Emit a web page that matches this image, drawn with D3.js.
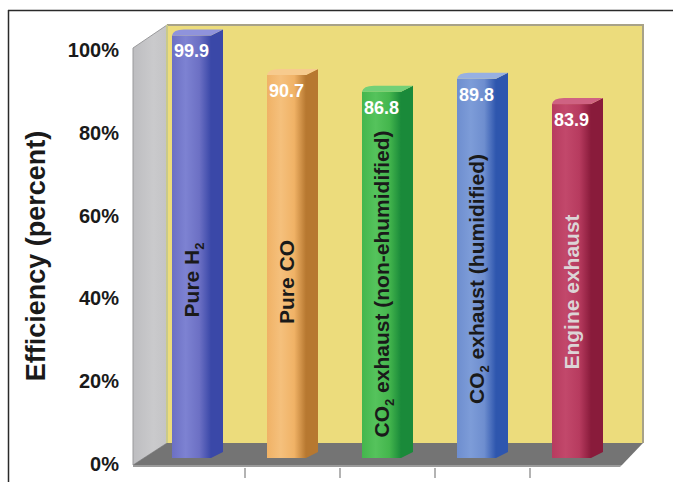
<!DOCTYPE html>
<html>
<head>
<meta charset="utf-8">
<script src="https://cdn.jsdelivr.net/npm/d3@7"></script>
<style>
  html, body { margin: 0; padding: 0; background: #ffffff; }
  svg { display: block; font-family: "Liberation Sans", Arial, Helvetica, sans-serif; }
</style>
</head>
<body>
<svg id="chart" width="673" height="482"></svg>
<script>
// Fuel-processing efficiency by feed gas
const categories = ["Pure H2", "Pure CO", "CO2 non-humidified", "CO2 humidified", "Engine exhaust"];
const efficiency = [99.9, 90.7, 86.8, 89.8, 83.9];
// label text split into [main, subscript, rest]
const barLabels = [
  ["Pure H", "2", ""],
  ["Pure CO", "", ""],
  ["CO", "2", " exhaust (non-ehumidified)"],
  ["CO", "2", " exhaust (humidified)"],
  ["Engine exhaust", "", ""]
];
const yTicks = [0, 20, 40, 60, 80, 100];

// colours per bar: front face, side face, top face
const palette = [
  { front: "#6c70c4", light: "#7d82d2", side: "#3a48a8", top: "#8f93dc" },
  { front: "#f0b266", light: "#f5c07c", side: "#b77830", top: "#f7cb8e" },
  { front: "#44b64d", light: "#55c35c", side: "#1a8a3a", top: "#72d077" },
  { front: "#6e8ecf", light: "#7d9cd8", side: "#2e56ae", top: "#97b0e2" },
  { front: "#b73b5f", light: "#c2486b", side: "#891b3b", top: "#cf6282" }
];
const labelColor = ["#1a1a1a", "#1a1a1a", "#1a1a1a", "#1a1a1a", "#dcd4d6"];
const labelMid = [280, 282, 284, 279, 292];

const svg = d3.select("#chart");
const defs = svg.append("defs");

// scales
const x = d3.scaleBand().domain(categories).range([150, 625]).padding(0);
const yFront = d3.scaleLinear().domain([0, 100]).range([464, 50]);
const yBar = d3.scaleLinear().domain([0, 100]).range([458, 29]);

const barOffset = 22, barW = 39, sideW = 12, topH = 6;

// frame
svg.append("line").attr("x1", 8).attr("x2", 673).attr("y1", 10.5).attr("y2", 10.5)
  .attr("stroke", "#2a2a2a").attr("stroke-width", 1.5);
svg.append("line").attr("x1", 8.5).attr("x2", 8.5).attr("y1", 10).attr("y2", 482)
  .attr("stroke", "#2a2a2a").attr("stroke-width", 1.5);

// back wall
const wall = { l: 167, r: 643, t: 25, b: 443 };
svg.append("rect").attr("x", wall.l).attr("y", wall.t)
  .attr("width", wall.r - wall.l).attr("height", wall.b - wall.t)
  .attr("fill", "#ecdc7c");
svg.append("path")
  .attr("d", `M${wall.l},${wall.t} L${wall.r},${wall.t} L${wall.r},${wall.b}`)
  .attr("fill", "none").attr("stroke", "#a8a288").attr("stroke-width", 2);

// side wall
const sideGrad = defs.append("linearGradient").attr("id", "sideGrad")
  .attr("x1", 0).attr("x2", 1).attr("y1", 0).attr("y2", 0);
sideGrad.append("stop").attr("offset", "0%").attr("stop-color", "#bdbdc0");
sideGrad.append("stop").attr("offset", "60%").attr("stop-color", "#cacacc");
sideGrad.append("stop").attr("offset", "100%").attr("stop-color", "#c4c4c6");
svg.append("path")
  .attr("d", `M133,${yFront(100) - 2} L${wall.l},${wall.t} L${wall.l},${wall.b} L133,465 Z`)
  .attr("fill", "url(#sideGrad)").attr("stroke", "#9a9a9c").attr("stroke-width", 1);
svg.append("line").attr("x1", wall.l).attr("x2", wall.l).attr("y1", wall.t).attr("y2", wall.b)
  .attr("stroke", "#c9c98a").attr("stroke-width", 2);

// floor
svg.append("path")
  .attr("d", `M133,465 L${wall.l},${wall.b} L${wall.r},${wall.b} L622,465 Z`)
  .attr("fill", "#747474");
svg.append("path")
  .attr("d", `M133,465 L622,465 L620,467 L133,467 Z`)
  .attr("fill", "#9b9b9b");

// separator ticks between categories
svg.append("g").selectAll("line")
  .data(categories.slice(1))
  .join("line")
  .attr("x1", d => x(d)).attr("x2", d => x(d))
  .attr("y1", 468).attr("y2", 478)
  .attr("stroke", "#9a9a9a").attr("stroke-width", 1.5);

// front-face gradients
palette.forEach((p, i) => {
  const g = defs.append("linearGradient").attr("id", "front" + i)
    .attr("x1", 0).attr("x2", 1).attr("y1", 0).attr("y2", 0);
  g.append("stop").attr("offset", "0%").attr("stop-color", p.front);
  g.append("stop").attr("offset", "35%").attr("stop-color", p.light);
  g.append("stop").attr("offset", "70%").attr("stop-color", p.front);
  g.append("stop").attr("offset", "100%").attr("stop-color", p.side);
});

// bars
const bars = svg.append("g").selectAll("g")
  .data(categories.map((c, i) => ({ c, v: efficiency[i], i })))
  .join("g");

const bx = d => x(d.c) + barOffset;
const base = yBar(0);

bars.append("path") // side face
  .attr("d", d => {
    const x0 = bx(d) + barW, t = yBar(d.v);
    return `M${x0},${t + topH} L${x0 + sideW},${t} L${x0 + sideW},${base - topH} L${x0},${base} Z`;
  })
  .attr("fill", d => palette[d.i].side);

bars.append("rect") // front face
  .attr("x", d => bx(d))
  .attr("y", d => yBar(d.v) + topH)
  .attr("width", barW)
  .attr("height", d => base - yBar(d.v) - topH)
  .attr("fill", d => `url(#front${d.i})`);

bars.append("path") // top face with rounded leading edge
  .attr("d", d => {
    const x0 = bx(d), t = yBar(d.v);
    return `M${x0},${t + topH} Q${x0 + 1},${t} ${x0 + sideW},${t} L${x0 + barW + sideW},${t} L${x0 + barW},${t + topH} Z`;
  })
  .attr("fill", d => palette[d.i].top);

// value labels
bars.append("text")
  .attr("x", d => bx(d) + barW / 2)
  .attr("y", d => yBar(d.v) + 28)
  .attr("text-anchor", "middle")
  .attr("fill", "#ffffff")
  .attr("font-weight", "bold")
  .attr("font-size", 18)
  .text(d => d.v.toFixed(1));

// category labels inside bars
bars.each(function (d) {
  const cx = bx(d) + barW / 2;
  const t = d3.select(this).append("text")
    .attr("transform", `translate(${cx},${labelMid[d.i]}) rotate(-90)`)
    .attr("text-anchor", "middle")
    .attr("dy", "0.36em")
    .attr("fill", labelColor[d.i])
    .attr("font-weight", "bold")
    .attr("font-size", 21);
  const [a, sub, rest] = barLabels[d.i];
  t.append("tspan").text(a);
  if (sub) {
    t.append("tspan").attr("dy", 5).attr("font-size", 13).text(sub);
    if (rest) t.append("tspan").attr("dy", -5).text(rest);
  }
});

// y axis labels
const yAxis = d3.axisLeft(yFront)
  .tickValues(yTicks)
  .tickFormat(d => d + "%")
  .tickSize(0)
  .tickPadding(0);
const ag = svg.append("g").attr("transform", "translate(119,0)").call(yAxis);
ag.select(".domain").remove();
ag.selectAll("text")
  .attr("font-family", "'Liberation Sans', Arial, sans-serif")
  .attr("font-size", 20)
  .attr("font-weight", "bold")
  .attr("fill", "#1a1a1a");

// y axis title
svg.append("text")
  .attr("transform", "translate(35,256) rotate(-90)")
  .attr("text-anchor", "middle")
  .attr("dy", "0.36em")
  .attr("font-size", 27)
  .attr("font-weight", "bold")
  .attr("fill", "#1a1a1a")
  .text("Efficiency (percent)");
</script>
</body>
</html>
